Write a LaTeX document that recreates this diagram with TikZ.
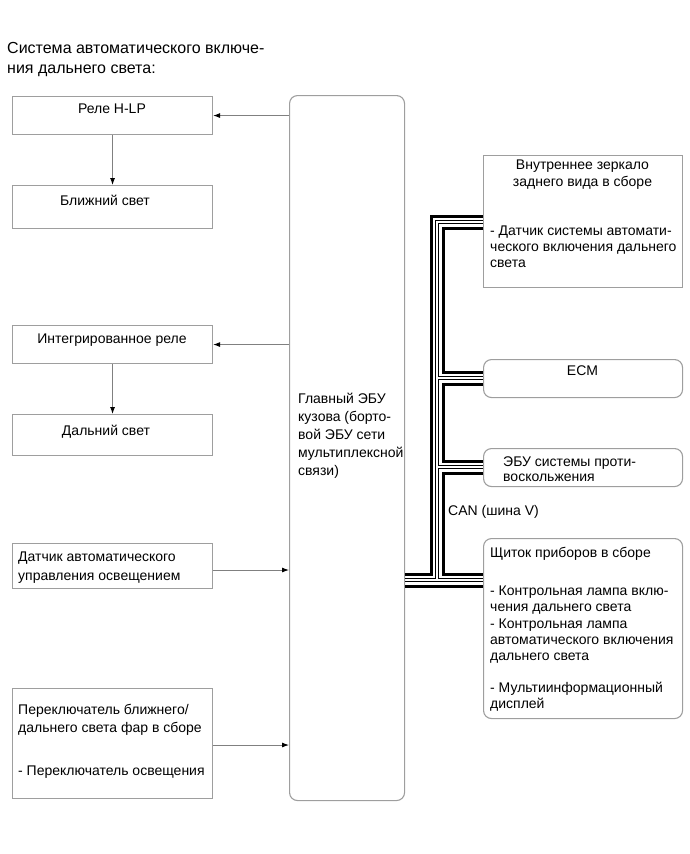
\documentclass[tikz,border=0pt]{standalone}
\usepackage{fontspec}
\setmainfont{Liberation Sans}
\usetikzlibrary{arrows.meta}

\definecolor{framegray}{gray}{0.62}
\definecolor{wiregray}{gray}{0.5}

\tikzset{
    box/.style = {draw=framegray, line width=1.1pt, anchor=north west,
        inner sep=0pt},
    rbox/.style = {box, rounded corners=8pt},
    txt/.style = {inner sep=0pt, align=left,
        font=\fontsize{14}{16.5}\selectfont},
    feed/.style = {draw=wiregray, line width=0.9pt,
        -{Latex[black, length=7pt, width=5pt]}},
    canthick/.style = {line width=3pt},
    canthin/.style = {line width=0.9pt},
}

\begin{document}
\begin{tikzpicture}[x=1pt, y=-1pt]
    \useasboundingbox (0,0) rectangle (690,854);

    % title
    \node [txt, anchor=north west, font=\fontsize{16}{20.5}\selectfont]
        (title) at (7,42)
        {Система автоматического включе-\\ния дальнего света:};

    % left column
    \node [box, minimum width=200pt, minimum height=38pt] (hlp) at (12,96) {};
    \node [box, minimum width=200pt, minimum height=43pt] (low) at (12,185) {};
    \node [box, minimum width=200pt, minimum height=38pt] (integ) at (12,325) {};
    \node [box, minimum width=200pt, minimum height=41pt] (high) at (12,414) {};
    \node [box, minimum width=200pt, minimum height=45pt] (sensor) at (12,543) {};
    \node [box, minimum width=200pt, minimum height=110pt] (switch) at (12,688) {};

    \node [txt, anchor=base] at (112,113) {Реле H-LP};
    \node [txt, anchor=base] at (105,205) {Ближний свет};
    \node [txt, anchor=base] at (112,343) {Интегрированное реле};
    \node [txt, anchor=base] at (106,435) {Дальний свет};
    \node [txt, anchor=north west, font=\fontsize{14}{19}\selectfont]
        at (18,552) {Датчик автоматического\\управления освещением};
    \node [txt, anchor=north west, font=\fontsize{14}{18}\selectfont]
        at (18,704) {Переключатель ближнего/\\дальнего света фар в сборе\\[25pt]- Переключатель освещения};

    % body ECU
    \node [rbox, minimum width=115pt, minimum height=705pt] (main) at (289,95) {};
    \node [txt, anchor=north west, font=\fontsize{14}{18}\selectfont]
        at (298,393) {Главный ЭБУ\\кузова (борто-\\вой ЭБУ сети\\мультиплексной\\связи)};

    % right column
    \node [box, minimum width=199pt, minimum height=132pt] (mirror) at (483,155) {};
    \node [rbox, minimum width=199pt, minimum height=38pt] (ecm) at (483,359) {};
    \node [rbox, minimum width=199pt, minimum height=38pt] (abs) at (483,448) {};
    \node [rbox, minimum width=199pt, minimum height=180pt] (meter) at (483,538) {};

    \node [txt, anchor=north, align=center, font=\fontsize{14}{17}\selectfont]
        at (582.5,159.5) {Внутреннее зеркало\\заднего вида в сборе};
    \node [txt, anchor=north west, font=\fontsize{14}{16}\selectfont]
        at (490,225.5) {- Датчик системы автомати-\\ческого включения дальнего\\света};
    \node [txt, anchor=base] at (582.5,375) {ECM};
    \node [txt, anchor=north west, font=\fontsize{14}{15.5}\selectfont]
        at (503,456.5) {ЭБУ системы проти-\\воскольжения};
    \node [txt, anchor=north west, font=\fontsize{14}{16}\selectfont]
        at (490,547) {Щиток приборов в сборе\\[22pt]- Контрольная лампа вклю-\\чения дальнего света\\[1pt]- Контрольная лампа\\автоматического включения\\дальнего света\\[16pt]- Мультиинформационный\\дисплей};

    \node [txt, anchor=base west] (can) at (448,515) {CAN (шина V)};

    % inputs and outputs
    \draw [feed] (main.west |- hlp.east) -- (hlp.east);
    \draw [feed] (main.west |- integ.east) -- (integ.east);
    \draw [feed] (hlp.south) -- (low.north);
    \draw [feed] (integ.south) -- (high.north);
    \draw [feed] (sensor.east |- 0,570) -- (main.west |- 0,570);
    \draw [feed] (switch.east |- 0,745) -- (main.west |- 0,745);

    % CAN bus
    \draw [canthick]
        (main.east |- 0,574) -- (431,574) -- (431,216) -- (mirror.west |- 0,216)
        (mirror.west |- 0,228) -- (443,228) -- (443,372) -- (ecm.west |- 0,372)
        (ecm.west |- 0,384) -- (443,384) -- (443,461) -- (abs.west |- 0,461)
        (abs.west |- 0,473) -- (443,473) -- (443,574) -- (meter.west |- 0,574)
        (main.east |- 0,586) -- (meter.west |- 0,586)
        ;
    \draw [canthin]
        (main.east |- 0,578.5) -- (435.5,578.5) -- (435.5,220.5) -- (mirror.west |- 0,220.5)
        (mirror.west |- 0,223.5) -- (438.5,223.5) -- (438.5,376.5) -- (ecm.west |- 0,376.5)
        (ecm.west |- 0,379.5) -- (438.5,379.5) -- (438.5,465.5) -- (abs.west |- 0,465.5)
        (abs.west |- 0,468.5) -- (438.5,468.5) -- (438.5,578.5) -- (meter.west |- 0,578.5)
        (main.east |- 0,581.5) -- (meter.west |- 0,581.5)
        ;
\end{tikzpicture}
\end{document}
